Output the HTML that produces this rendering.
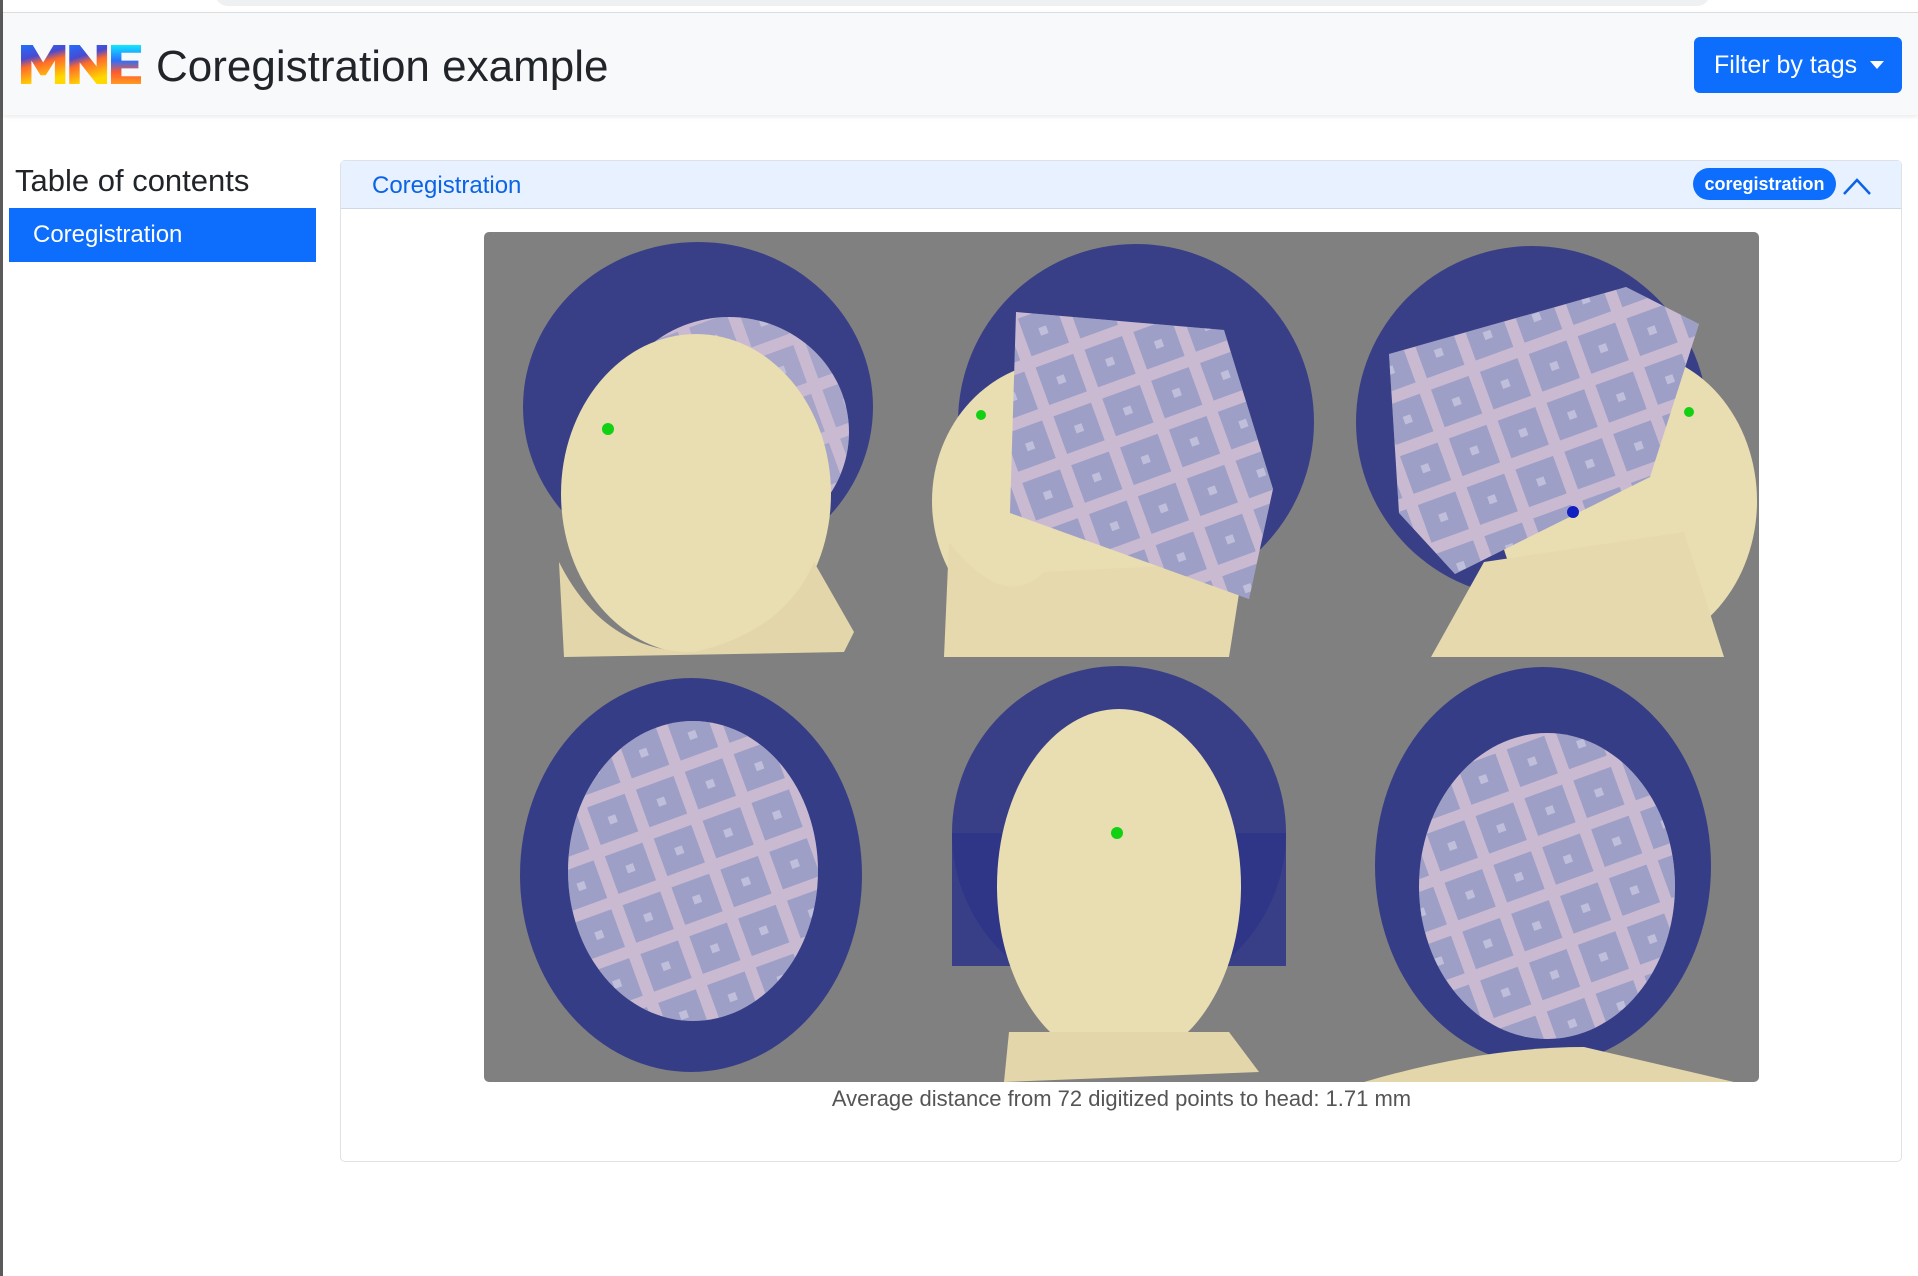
<!DOCTYPE html>
<html><head><meta charset="utf-8">
<style>
*{box-sizing:border-box;margin:0;padding:0}
body{width:1918px;height:1276px;background:#fff;font-family:"Liberation Sans","Noto Sans CJK KR",sans-serif;position:relative;overflow:hidden}
.abs{position:absolute}
</style></head><body>
<div class="abs" style="left:0;top:0;width:3px;height:1276px;background:#5a5a5a"></div>
<div class="abs" style="left:215px;top:-20px;width:1495px;height:26px;background:#eff0f2;border-radius:14px"></div>
<div class="abs" style="left:3px;top:12px;width:1915px;height:103px;background:#f8f9fa;border-top:1px solid #dcdcdc;box-shadow:0 2px 4px rgba(0,0,0,0.08)">
  <svg class="abs" style="left:18px;top:32px" width="120" height="39" viewBox="0 0 92 40" preserveAspectRatio="none">
    <defs><linearGradient id="lg" x1="0" y1="0" x2="0.3" y2="1"><stop offset="0" stop-color="#1f6fff"/><stop offset="0.35" stop-color="#4a4ad0"/><stop offset="0.55" stop-color="#ff6a2a"/><stop offset="1" stop-color="#ffd800"/></linearGradient>
    <linearGradient id="lg2" x1="0" y1="0" x2="0" y2="1"><stop offset="0" stop-color="#10e8ff"/><stop offset="0.4" stop-color="#2a6fff"/><stop offset="0.7" stop-color="#ff5a30"/><stop offset="1" stop-color="#ff9a20"/></linearGradient></defs>
    <path d="M0 40V0h9l8 18 8-18h9v40h-8V16l-7 15h-4l-7-15v24z" fill="url(#lg)"/>
    <path d="M37 40V0h8l13 22V0h8v40h-8L45 18v22z" fill="url(#lg)"/>
    <path d="M69 0h23v8H77v8h13v8H77v8h15v8H69z" fill="url(#lg2)"/>
  </svg>
  <div class="abs" style="left:153px;top:29px;font-size:44px;color:#212529;white-space:nowrap">Coregistration example</div>
  <div class="abs" style="left:1691px;top:24px;width:208px;height:56px;background:#0d6efd;border-radius:6px;color:#fff;font-size:25px;line-height:56px;padding-left:20px;white-space:nowrap">Filter by tags<span style="position:absolute;right:18px;top:24px;border-left:7px solid transparent;border-right:7px solid transparent;border-top:8px solid #fff"></span></div>
</div>
<div class="abs" style="left:15px;top:163px;font-size:31px;color:#212529">Table of contents</div>
<div class="abs" style="left:9px;top:208px;width:307px;height:54px;background:#0d6efd;color:#fff;font-size:24px;line-height:54px;padding-left:24px">Coregistration</div>
<div class="abs" style="left:340px;top:160px;width:1562px;height:1002px;border:1px solid #dee2e6;border-radius:5px">
  <div class="abs" style="left:0;top:0;width:1560px;height:48px;background:#e7f1ff;border-bottom:1px solid #cfd8e4">
    <div class="abs" style="left:31px;top:11px;font-size:24px;color:#0c63e4">Coregistration</div>
    <div class="abs" style="left:1352px;top:7px;width:143px;height:32px;background:#0d6efd;border-radius:16px;color:#fff;font-weight:bold;font-size:18px;line-height:32px;text-align:center">coregistration</div>
    <svg class="abs" style="left:1501px;top:14px" width="30" height="22" viewBox="0 0 30 22"><path d="M2 19L15 5l13 14" fill="none" stroke="#0c63e4" stroke-width="2.5"/></svg>
  </div>
</div>
<div class="abs" style="left:484px;top:232px;width:1275px;height:850px;background:#808080;border-radius:5px;overflow:hidden">
<svg width="1275" height="850" viewBox="0 0 1275 850">
<defs>
<pattern id="grid" width="52" height="52" patternUnits="userSpaceOnUse" patternTransform="rotate(-20)"><rect x="4" y="4" width="40" height="40" fill="#6d7fb8" opacity="0.55"/><rect x="20" y="20" width="8" height="8" fill="#d8d8ee" opacity="0.6"/></pattern>
</defs>
<g>
<ellipse cx="214" cy="175" rx="175" ry="165" fill="#2e3587" opacity="0.88"/>
<ellipse cx="245" cy="200" rx="120" ry="115" fill="#c9bad2"/>
<ellipse cx="245" cy="200" rx="120" ry="115" fill="url(#grid)" opacity="0.7"/>
<ellipse cx="212" cy="262" rx="135" ry="160" fill="#e9ddb2"/>
<path d="M75 330 Q120 420 210 420 Q300 400 330 330 L370 400 L360 420 L80 425 Z" fill="#e4d6ab"/>
<circle cx="124" cy="197" r="6" fill="#12d012"/>
</g>
<g>
<ellipse cx="652" cy="190" rx="178" ry="178" fill="#2e3587" opacity="0.88"/>
<ellipse cx="578" cy="269" rx="130" ry="140" fill="#e9ddb2"/>
<path d="M465 310 Q520 380 560 340 L760 330 L745 425 L460 425 Z" fill="#e6d9ad"/>
<polygon points="532,80 740,98 789,257 765,367 526,281" fill="#c9bad2"/>
<polygon points="532,80 740,98 789,257 765,367 526,281" fill="url(#grid)" opacity="0.85"/>
<circle cx="497" cy="183" r="5" fill="#12d012"/>
</g>
<g>
<ellipse cx="1048" cy="190" rx="176" ry="176" fill="#2e3587" opacity="0.88"/>
<ellipse cx="1143" cy="269" rx="130" ry="150" fill="#e9ddb2"/>
<path d="M947 425 L1000 330 L1200 300 L1240 425 Z" fill="#e6d9ad"/>
<polygon points="905,122 1142,55 1215,92 1166,245 971,342 915,281" fill="#c9bad2"/>
<polygon points="905,122 1142,55 1215,92 1166,245 971,342 915,281" fill="url(#grid)" opacity="0.85"/>
<circle cx="1205" cy="180" r="5" fill="#12d012"/>
<circle cx="1089" cy="280" r="6" fill="#1020c0"/>
</g>
<g>
<ellipse cx="207" cy="643" rx="171" ry="197" fill="#2e3587" opacity="0.9"/>
<ellipse cx="209" cy="639" rx="125" ry="150" fill="#c9bad2"/>
<ellipse cx="209" cy="639" rx="125" ry="150" fill="url(#grid)" opacity="0.85"/>
</g>
<g>
<ellipse cx="635" cy="601" rx="167" ry="167" fill="#2e3587" opacity="0.88"/>
<rect x="468" y="601" width="334" height="133" fill="#2e3587" opacity="0.88"/>
<ellipse cx="635" cy="654" rx="122" ry="177" fill="#e9ddb2"/>
<path d="M525 800 L745 800 L775 840 L520 850 Z" fill="#e4d6ab"/>
<circle cx="633" cy="601" r="6" fill="#12d012"/>
</g>
<g>
<ellipse cx="1059" cy="634" rx="168" ry="199" fill="#2e3587" opacity="0.9"/>
<ellipse cx="1063" cy="654" rx="128" ry="153" fill="#c9bad2"/>
<ellipse cx="1063" cy="654" rx="128" ry="153" fill="url(#grid)" opacity="0.85"/>
<path d="M880 850 Q1000 815 1100 815 L1250 850 Z" fill="#e4d6ab"/>
</g>
</svg>
</div>
<div class="abs" style="left:484px;top:1086px;width:1275px;text-align:center;font-size:22px;color:#555">Average distance from 72 digitized points to head: 1.71 mm</div>
</body></html>
